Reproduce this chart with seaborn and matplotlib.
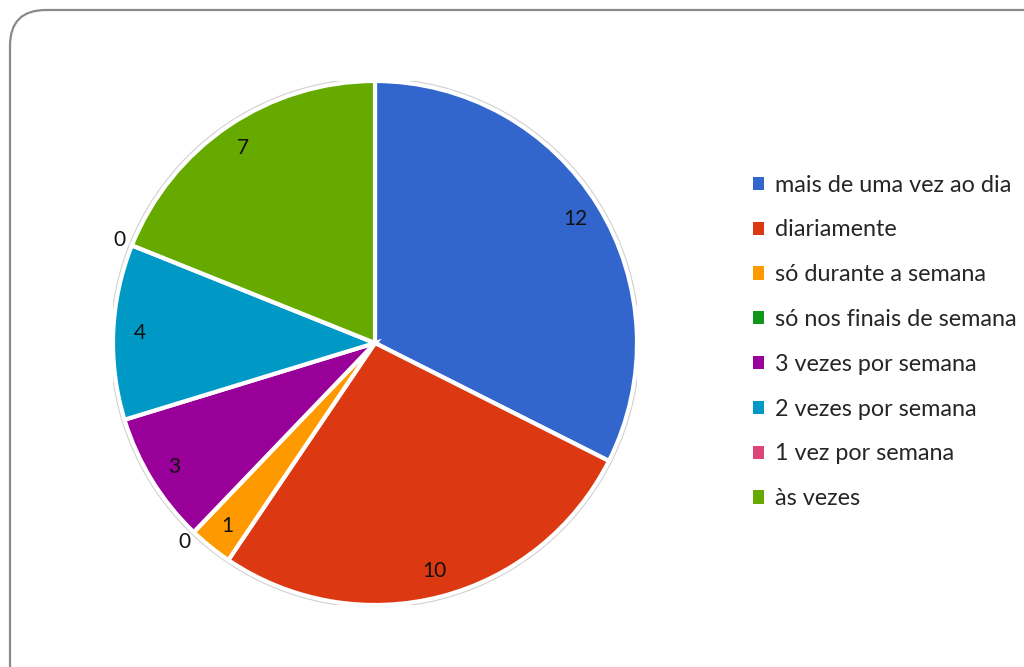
import numpy as np
import matplotlib
matplotlib.use("Agg")
import matplotlib.pyplot as plt
from matplotlib.patches import FancyBboxPatch, Patch, Circle
import seaborn as sns

categories = [
    "mais de uma vez ao dia",
    "diariamente",
    "só durante a semana",
    "só nos finais de semana",
    "3 vezes por semana",
    "2 vezes por semana",
    "1 vez por semana",
    "às vezes",
]
values = [12, 10, 1, 0, 3, 4, 0, 7]
colors = ["#3366CC", "#DC3912", "#FF9900", "#109618",
          "#990099", "#0099C6", "#DD4477", "#66AA00"]

sns.set_theme(style="white")
plt.rcParams["font.family"] = ["Lato", "DejaVu Sans"]

W, H = 1024, 667
fig = plt.figure(figsize=(W / 100, H / 100), dpi=100)
fig.patch.set_facecolor("white")

# rounded chart frame, open to the right and bottom
frame = FancyBboxPatch((10 / W, -0.5), 1.2, 1 - 10 / H + 0.5,
                       boxstyle="round,pad=0,rounding_size=0.035",
                       transform=fig.transFigure, facecolor="none",
                       edgecolor="#8a8a8a", linewidth=1.6,
                       mutation_aspect=W / H)
fig.patches.append(frame)

cx, cy, r = 375, 343, 262
ax = fig.add_axes([(cx - r) / W, (H - cy - r) / H, 2 * r / W, 2 * r / H])

# soft outline behind the pie
ax.add_patch(Circle((0, 0), 1.012, facecolor="#d0d0d0", edgecolor="none", zorder=0))

wedges, _ = ax.pie(values, colors=colors, startangle=90, counterclock=False,
                   radius=1.0,
                   wedgeprops=dict(edgecolor="white", linewidth=3))
for w in wedges:
    w.set_zorder(1)

ax.set_xlim(-1, 1)
ax.set_ylim(-1, 1)
ax.set_aspect("equal")
ax.axis("off")

for w, v in zip(wedges, values):
    mid = np.deg2rad((w.theta1 + w.theta2) / 2)
    d = 0.9 if v > 0 else 1.05
    ax.text(d * np.cos(mid), d * np.sin(mid), str(v), ha="center", va="center",
            fontsize=15, color="#111111", zorder=3, clip_on=False)

handles = [Patch(facecolor=c, edgecolor="none") for c in colors]
fig.legend(handles, categories, loc="upper left",
           bbox_to_anchor=(741 / W, 1 - 163 / H), frameon=False,
           fontsize=16.8, handlelength=0.5, handleheight=0.5,
           handletextpad=0.45, labelspacing=1.02, borderpad=0)

fig.savefig("out.png", dpi=100, facecolor="white")
